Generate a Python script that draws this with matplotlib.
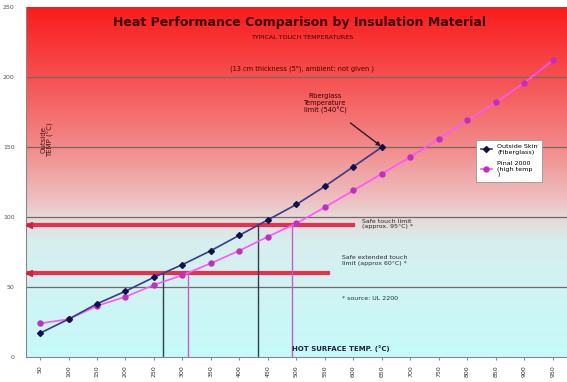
import numpy as np
import matplotlib
matplotlib.use("Agg")
from matplotlib import pyplot as plt
from matplotlib.colors import LinearSegmentedColormap

# data
hot_temps = ["50", "100", "150", "200", "250", "300", "350", "400", "450", "500",
             "550", "600", "650", "700", "750", "800", "850", "900", "950"]
fiberglass = [17, 27, 38, 47, 57, 66, 76, 87, 98, 109, 122, 136, 150]
pinal = [24, 27, 36.5, 43, 51.5, 58.5, 67, 76, 86, 95.5, 107, 119, 131, 143,
         156, 169, 182, 196, 212]
safe_touch = 94
safe_extended = 60

fig = plt.figure(figsize=(5.67, 3.82), dpi=100)
ax = fig.add_axes([25.75/567, 1-357/382, 541.5/567, 350/382])
ax.set_xlim(-0.5, len(hot_temps)-0.5)
ax.set_ylim(0, 250)

# background: cyan at bottom, red at top
cmap = LinearSegmentedColormap.from_list("bg", [
    (0.0, "#c6fafa"), (0.33, "#d8eeee"), (0.40, "#e6d8d8"), (0.45, "#eec0c0"),
    (0.6, "#f28a8a"), (0.8, "#f65050"), (1.0, "#fa1c1c")])
grad = np.linspace(0, 1, 256).reshape(-1, 1)
ax.imshow(grad, extent=[-0.5, len(hot_temps)-0.5, 0, 250], origin="lower",
          aspect="auto", cmap=cmap, zorder=0)

for v in [50, 100, 150, 200]:
    ax.axhline(v, color="#7a6464", lw=0.9, zorder=1)

x_fg = np.arange(len(fiberglass))
x_pn = np.arange(len(pinal))

# safe limit lines
ax.plot([-0.45, 11.0], [safe_touch, safe_touch], color="#e8304c", lw=3, zorder=2)
ax.plot([-0.45, 10.1], [safe_extended, safe_extended], color="#e8304c", lw=3, zorder=2)
ax.plot([-0.4], [safe_touch], marker="<", color="#d02040", ms=5, zorder=3)
ax.plot([-0.4], [safe_extended], marker="<", color="#d02040", ms=5, zorder=3)

# drop lines where each curve crosses the limits
for lim in [safe_extended, safe_touch]:
    xf = np.interp(lim, fiberglass, x_fg)
    xp = np.interp(lim, pinal, x_pn)
    ax.plot([xf, xf], [0, lim], color="#2e4050", lw=1, zorder=2)
    ax.plot([xp, xp], [0, lim], color="#c060c0", lw=1, zorder=2)

ax.plot(x_pn, pinal, color="#ff55ff", lw=1.2, marker="o", ms=3.6,
        mfc="#c030c0", mec="#c030c0", zorder=4, label="Pinal 2000\n(high temp\n)")
ax.plot(x_fg, fiberglass, color="#3a3a8a", lw=1.2, marker="D", ms=3,
        mfc="#101050", mec="#101050", zorder=5, label="Outside Skin\n(Fiberglass)")

h, l = ax.get_legend_handles_labels()
leg = ax.legend(h[::-1], l[::-1], loc="upper left", bbox_to_anchor=(0.826, 0.63),
                fontsize=4.6, frameon=True, fancybox=False, edgecolor="#999999",
                framealpha=1, facecolor="white",
                handlelength=1.8, labelspacing=0.9, borderpad=0.7)
leg.get_frame().set_linewidth(0.6)

# texts
ax.text(0.505, 0.955, "Heat Performance Comparison by Insulation Material",
        transform=ax.transAxes, ha="center", va="center", fontsize=9,
        fontweight="bold", color="#3a0000")
ax.text(0.51, 0.914, "TYPICAL TOUCH TEMPERATURES", transform=ax.transAxes,
        ha="center", va="center", fontsize=4.6, color="#3a0000")
ax.text(0.51, 0.825, "(13 cm thickness (5\"), ambient: not given )",
        transform=ax.transAxes, ha="center", va="center", fontsize=4.8,
        color="#4a0000")
ax.annotate("Fiberglass\nTemperature\nlimit (540°C)", xy=(12, 150), xytext=(10.0, 181),
            fontsize=4.8, color="#3a0000", ha="center", va="center",
            arrowprops=dict(arrowstyle="-|>", color="#2a1a2a", lw=1,
                            mutation_scale=6, shrinkA=7, shrinkB=1))
ax.text(0.25, 155, "Outside\nTEMP (°C)", rotation=90, ha="center", va="center",
        fontsize=5, color="#4a1010", linespacing=1.1)
ax.text(11.3, safe_touch+1, "Safe touch limit\n(approx. 95°C) *", fontsize=4.5,
        color="#302020", va="center", ha="left")
ax.text(10.6, 69, "Safe extended touch\nlimit (approx 60°C) *", fontsize=4.5,
        color="#203030", va="center", ha="left")
ax.text(10.6, 42, "* source: UL 2200", fontsize=4.5, color="#203030",
        va="center", ha="left")
ax.text(8.85, 6, "HOT SURFACE TEMP. (°C)", fontsize=5, fontweight="bold",
        color="#202040", va="center", ha="left")

ax.set_xticks(np.arange(len(hot_temps)))
ax.set_xticklabels(hot_temps, rotation=90, fontsize=4.5, color="#333333")
ax.set_yticks([0, 50, 100, 150, 200, 250])
ax.tick_params(axis="y", labelsize=4.5, colors="#555555", length=0, pad=8)
ax.tick_params(axis="x", length=2, color="#888888", pad=4)
for s in ["top", "right"]:
    ax.spines[s].set_visible(False)
ax.spines["left"].set_color("#888888")
ax.spines["bottom"].set_color("#888888")

fig.savefig("out.png", dpi=100)
